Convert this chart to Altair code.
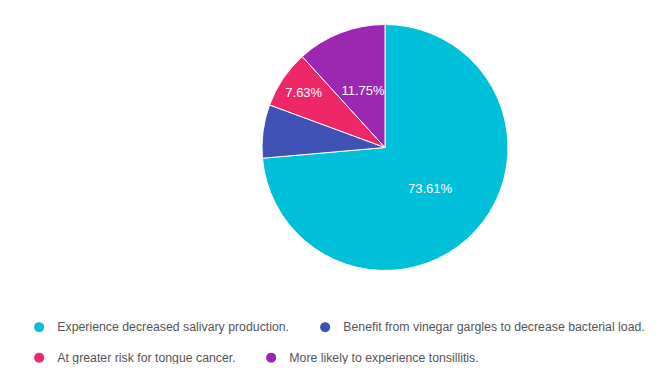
import altair as alt
import pandas as pd

labels = [
    "Experience decreased salivary production.",
    "Benefit from vinegar gargles to decrease bacterial load.",
    "At greater risk for tongue cancer.",
    "More likely to experience tonsillitis.",
]
values = [73.61, 7.01, 7.63, 11.75]
colors = ["#00BFD8", "#3F51B5", "#EE2868", "#9C27B0"]
legend_rows = [0, 0, 1, 1]

df = pd.DataFrame({"label": labels, "value": values, "idx": list(range(len(labels))), "row": legend_rows})

theta_scale = alt.Scale(domain=[0, 100])

stacked = alt.Chart(df).transform_stack(
    stack="value", groupby=[], as_=["v0", "v1"], sort=[alt.SortField("idx", order="ascending")]
)

arcs = stacked.mark_arc(radius=123, stroke="white", strokeWidth=1).encode(
    theta=alt.Theta("v0:Q", scale=theta_scale),
    theta2="v1:Q",
    x=alt.value(377),
    y=alt.value(139.5),
    color=alt.Color("label:N", scale=alt.Scale(domain=labels, range=colors), legend=None),
)

text = stacked.transform_calculate(
    mid="(datum.v0 + datum.v1) / 2",
    txt="datum.value >= 7.5 ? format(datum.value, '.2f') + '%' : ''",
    lr="datum.value < 10 ? 98 : 61",
).mark_text(
    font="Liberation Sans", fontSize=13, color="white", align="center", baseline="middle"
).encode(
    theta=alt.Theta("mid:Q", scale=theta_scale),
    x=alt.value(377),
    y=alt.value(139.5),
    text="txt:N",
    radius=alt.Radius("lr:Q", scale=None),
)


def legend_layer(row, ly):
    lab = [l for l, r in zip(labels, legend_rows) if r == row]
    col = [c for c, r in zip(colors, legend_rows) if r == row]
    return (
        alt.Chart(df)
        .transform_filter(alt.datum.row == row)
        .mark_point(opacity=0, filled=True)
        .encode(
            x=alt.value(0),
            y=alt.value(0),
            color=alt.Color(
                "label:N",
                scale=alt.Scale(domain=lab, range=col),
                legend=alt.Legend(
                    title=None,
                    orient="none",
                    legendX=25,
                    legendY=ly,
                    direction="horizontal",
                    columns=2,
                    gridAlign="none",
                    columnPadding=29,
                    symbolType="circle",
                    symbolSize=100,
                    symbolOpacity=1,
                    symbolStrokeWidth=0,
                    labelOffset=12,
                    labelFont="Liberation Sans",
                    labelFontSize=12.3,
                    labelColor="#555555",
                    labelLimit=0,
                    padding=0,
                ),
            ),
        )
    )


leg1 = legend_layer(0, 313)
leg2 = legend_layer(1, 343.5)

chart = (
    alt.layer(arcs, text, leg1, leg2)
    .resolve_scale(color="independent")
    .properties(width=656, height=356, padding=0, autosize=alt.AutoSizeParams(type="none"), background="white")
    .configure_view(stroke=None)
)

chart.save("out.html", embed_options={"renderer": "svg", "actions": False})
